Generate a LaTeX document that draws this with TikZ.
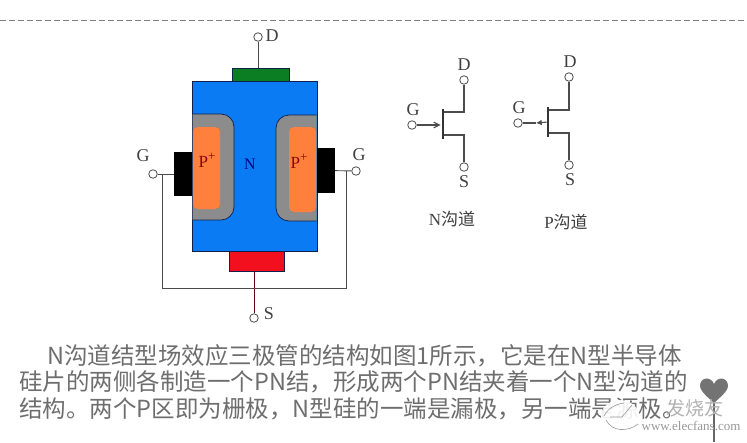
\documentclass[tikz,border=0pt]{standalone}
\usepackage{fontspec}
\setmainfont{Liberation Serif}
\newfontfamily\cjk{Noto Sans CJK SC}
\usepackage{tikz}
\usetikzlibrary{arrows.meta, positioning}
\usepackage{xcolor}

\definecolor{chipblue}{HTML}{0A7BF2}
\definecolor{chipgray}{HTML}{8C8C8C}
\definecolor{chiporange}{HTML}{FF7F3C}
\definecolor{chipgreen}{HTML}{0B7D22}
\definecolor{chipred}{HTML}{F2101E}
\definecolor{chipedge}{HTML}{10204A}
\definecolor{wiregray}{HTML}{4A4A4A}
\definecolor{paratext}{HTML}{6E6E6E}

\newcommand{\pplus}{P\raisebox{0.42em}{\fontsize{13}{13}\selectfont +}}

\begin{document}
\begin{tikzpicture}[x=1pt, y=-1pt, thick]

	% Define style for chip parts
	\tikzstyle{part} = [rectangle, inner sep=0pt, outer sep=0pt]
	\tikzstyle{contact} = [part, draw=chipedge, line width=0.6pt]
	\tikzstyle{term} = [circle, draw=wiregray, fill=white, line width=0.8pt, minimum size=8.5pt, inner sep=0pt]
	\tikzstyle{pin} = [inner sep=0pt, font=\fontsize{18}{18}\selectfont, text=black!75]
	\tikzstyle{bar} = [part, fill=black!80]

	% Define style for wires
	\tikzstyle{wire} = [draw=wiregray, line width=0.9pt]
	\tikzstyle{line} = [draw=black!70, line width=1.1pt]

	\useasboundingbox (0,0) rectangle (747,442);
	\fill[white] (0,0) rectangle (747,442);

	% Top rule
	\draw[black!50, line width=0.8pt, dash pattern=on 6pt off 3pt] (0,20) -- (747,20);

	% Place chip
	\node [contact, fill=chipgreen, minimum width=57pt, minimum height=13pt] (drain) at (260.5,74.5) {};
	\node [contact, fill=chipred, minimum width=55pt, minimum height=20pt] (source) at (256.5,261) {};
	\node [contact, fill=chipblue, minimum width=125pt, minimum height=170pt] (body) at (254.5,166) {};

	\draw[fill=chipgray, draw=chipedge, line width=0.7pt, rounded corners=13pt] (192.5,114) -- (234,114) -- (234,220) -- (192.5,220);
	\draw[fill=chipgray, draw=chipedge, line width=0.7pt, rounded corners=13pt] (316.5,115) -- (276,115) -- (276,221) -- (316.5,221);
	\fill[chiporange, rounded corners=5pt] (193,127) -- (220,127) -- (220,209) -- (193,209) -- cycle;
	\fill[chiporange, rounded corners=5pt] (316,127) -- (289,127) -- (289,212) -- (316,212) -- cycle;

	\node [part, fill=black, minimum width=18pt, minimum height=44pt] (gateL) at (183,174) {};
	\node [part, fill=black, minimum width=18pt, minimum height=45pt] (gateR) at (326,170.5) {};

	\node [inner sep=0pt, text=chipred!55!black, font=\fontsize{17}{17}\selectfont] (pL) at (207,160) {\pplus};
	\node [inner sep=0pt, text=chipred!55!black, font=\fontsize{17}{17}\selectfont] (pR) at (299,161) {\pplus};
	\node [inner sep=0pt, text=blue!50!black, font=\fontsize{16}{16}\selectfont] (nreg) at (250,164) {N};

	% Place chip terminals
	\node [term] (termD) at (258,37) {};
	\node [term] (termS) at (254,318) {};
	\node [term] (termGL) at (153,174) {};
	\node [term] (termGR) at (356,171) {};
	\node [pin] (labD) at (272,36) {D};
	\node [pin] (labS) at (269,314) {S};
	\node [pin] (labGL) at (143,156) {G};
	\node [pin] (labGR) at (359,155) {G};

	\coordinate (jL) at (162,174);
	\coordinate (jR) at (346,171);
	\coordinate (busL) at (162,288);
	\coordinate (busR) at (346,288);

	% Draw chip wires
	\path [wire] (termD) -- (termD |- drain.north);
	\path [wire, draw=chipred!40!black] (termS) -- (termS |- source.south);
	\path [wire] (termGL) -- (gateL);
	\path [wire] (termGR) -- (gateR);
	\path [wire] (jL) -- (busL) -- (busR) -- (jR);

	% N channel symbol
	\node [bar, minimum width=1.8pt, minimum height=30pt] (nbar) at (443,124) {};
	\node [term] (ndrain) at (464,80) {};
	\node [term] (nsource) at (464,167) {};
	\node [term] (ngate) at (412,125) {};
	\node [pin] (labnD) at (464,65) {D};
	\node [pin] (labnS) at (464,182) {S};
	\node [pin] (labnG) at (413,110) {G};
	\node [inner sep=0pt, font=\fontsize{17}{17}\selectfont, text=black!75] (labN) at (452,219) {N\cjk 沟道};
	\path [line] (ndrain) |- ([yshift=12pt]nbar.east);
	\path [line] (nsource) |- ([yshift=-11pt]nbar.east);
	\path [line, -{Straight Barb[length=2mm, width=2mm]}, shorten >=1.5pt] (ngate) -- (ngate -| nbar.west);

	% P channel symbol
	\node [bar, minimum width=2.6pt, minimum height=30pt] (pbar) at (548,122) {};
	\node [term] (pdrain) at (569,77) {};
	\node [term] (psource) at (569,165) {};
	\node [term] (pgate) at (518,123) {};
	\coordinate (parrow) at (536,123);
	\node [pin] (labpD) at (570,62) {D};
	\node [pin] (labpS) at (570,180) {S};
	\node [pin] (labpG) at (519,108) {G};
	\node [inner sep=0pt, font=\fontsize{17}{17}\selectfont, text=black!75] (labP) at (566,222) {P\cjk 沟道};
	\path [line] (pdrain) |- ([yshift=12pt]pbar.east);
	\path [line] (psource) |- ([yshift=-11pt]pbar.east);
	\path [line, -{Latex[length=2mm, width=2mm]}] (pbar) -- (parrow);
	\path [line] (parrow) -- (pgate);

	% Paragraph
	\node [inner sep=0pt, anchor=north west, align=left, text=paratext, font=\cjk\fontsize{23.5}{26.6}\selectfont] (para) at (19,344)
		{\hspace{28pt}N沟道结型场效应三极管的结构如图1所示，它是在N型半导体\\
		 硅片的两侧各制造一个PN结，形成两个PN结夹着一个N型沟道的\\
		 结构。两个P区即为栅极，N型硅的一端是漏极，另一端是源极。};

	% Heart
	\fill[black!55] (714,403) .. controls (704,394) and (700,390) .. (700,386)
		.. controls (700,377) and (711,376) .. (714,384)
		.. controls (717,376) and (728,377) .. (728,386)
		.. controls (728,390) and (724,394) .. (714,403) -- cycle;
	\coordinate (heartTip) at (714,403);
	\coordinate (stemEnd) at (714,442);
	\path [line, draw=black!60] (heartTip) -- (stemEnd);

	% Watermark
	\fill[white, opacity=0.9] (620,416) ellipse (19pt and 16pt);
	\draw[black!40, line width=0.6pt] (606,420) .. controls (612,432) and (628,432) .. (638,424);
	\draw[black!40, line width=0.6pt] (610,417) -- (622,417) -- (632,405);
	\draw[black!40, line width=0.6pt] (604,416) .. controls (608,408) and (616,404) .. (624,403);
	\node [inner sep=0pt, text=black!30, font=\cjk\itshape\fontsize{19}{19}\selectfont] (wmcn) at (695,408) {发烧友};
	\node [inner sep=0pt, text=black!40, font=\fontsize{13}{13}\selectfont] (wmurl) at (691,426) {www.elecfans.com};

\end{tikzpicture}
\end{document}
